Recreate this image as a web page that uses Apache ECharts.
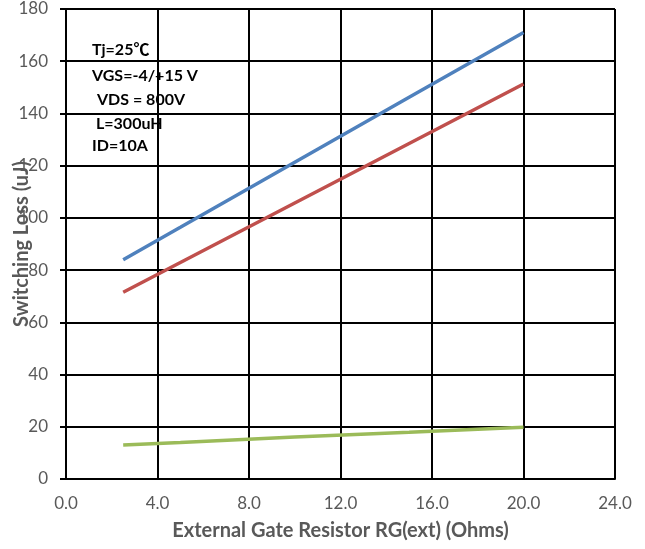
<!DOCTYPE html>
<html>
<head>
<meta charset="utf-8">
<script src="https://cdn.jsdelivr.net/npm/echarts@6/dist/echarts.min.js"></script>
<style>html,body{margin:0;padding:0;background:#fff;}#c{width:645px;height:549px;}</style>
</head>
<body>
<div id="c"></div>
<script>
var resistance = [2.5, 5, 10, 15, 20];
var seriesBlue = [84, 96.4, 121.3, 146.2, 171];
var seriesRed = [71.5, 82.9, 105.7, 128.5, 151.3];
var seriesGreen = [13, 14, 16.1, 17.9, 19.8];
var xTicks = [0, 4, 8, 12, 16, 20, 24];
var yTicks = [0, 20, 40, 60, 80, 100, 120, 140, 160, 180];
var notes = ['Tj=25\u2103', 'VGS=-4/+15 V', ' VDS = 800V', ' L=300uH', 'ID=10A'];
var xTitle = 'External Gate Resistor RG(ext) (Ohms)';
var yTitle = 'Switching Loss (uJ)';

function pairs(xs, ys) { return xs.map(function (x, i) { return [x, ys[i]]; }); }

var FONT = 'Lato, "Noto Sans CJK SC", sans-serif';
var chart = echarts.init(document.getElementById('c'), null, {renderer: 'canvas'});
var noteOffsets = [0, 0, 5, 4, 0];
var noteY = [52, 78, 102, 126, 148];
chart.setOption({
  animation: false,
  grid: {left: 66, right: 30, top: 9, bottom: 70, containLabel: false, outerBoundsMode: 'none'},
  xAxis: {
    type: 'value', min: xTicks[0], max: xTicks[xTicks.length - 1], interval: 4,
    axisLine: {lineStyle: {color: '#000', width: 2}},
    axisTick: {show: false},
    splitLine: {lineStyle: {color: '#000', width: 2}},
    axisLabel: {color: '#595959', fontFamily: FONT, fontSize: 17, margin: 16,
      formatter: function (v) { return v.toFixed(1); }},
    name: xTitle, nameLocation: 'middle', nameGap: 42, nameMoveOverlap: false,
    nameTextStyle: {color: '#595959', fontFamily: FONT, fontSize: 20, fontWeight: 'bold'}
  },
  yAxis: {
    type: 'value', min: yTicks[0], max: yTicks[yTicks.length - 1], interval: 20,
    axisLine: {show: true, lineStyle: {color: '#000', width: 2}},
    axisTick: {show: true, length: 6, lineStyle: {color: '#000', width: 2}},
    splitLine: {lineStyle: {color: '#000', width: 2}},
    axisLabel: {color: '#595959', fontFamily: FONT, fontSize: 17, margin: 18},
    name: yTitle, nameLocation: 'middle', nameGap: 34, nameMoveOverlap: false,
    nameTextStyle: {color: '#595959', fontFamily: FONT, fontSize: 20, fontWeight: 'bold'}
  },
  series: [
    {type: 'line', data: pairs(resistance, seriesBlue), symbol: 'none', lineStyle: {color: '#4F81BD', width: 3.5}, z: 3},
    {type: 'line', data: pairs(resistance, seriesRed), symbol: 'none', lineStyle: {color: '#C0504D', width: 3.5}, z: 3},
    {type: 'line', data: pairs(resistance, seriesGreen), symbol: 'none', lineStyle: {color: '#9BBB59', width: 3.5}, z: 3}
  ],
  graphic: notes.map(function (t, i) {
    return {type: 'text', left: 92 + noteOffsets[i], top: noteY[i] - 10, z: 10,
      style: {text: t.trim(), fill: '#000', font: 'bold 16px ' + FONT}};
  })
});
</script>
</body>
</html>
